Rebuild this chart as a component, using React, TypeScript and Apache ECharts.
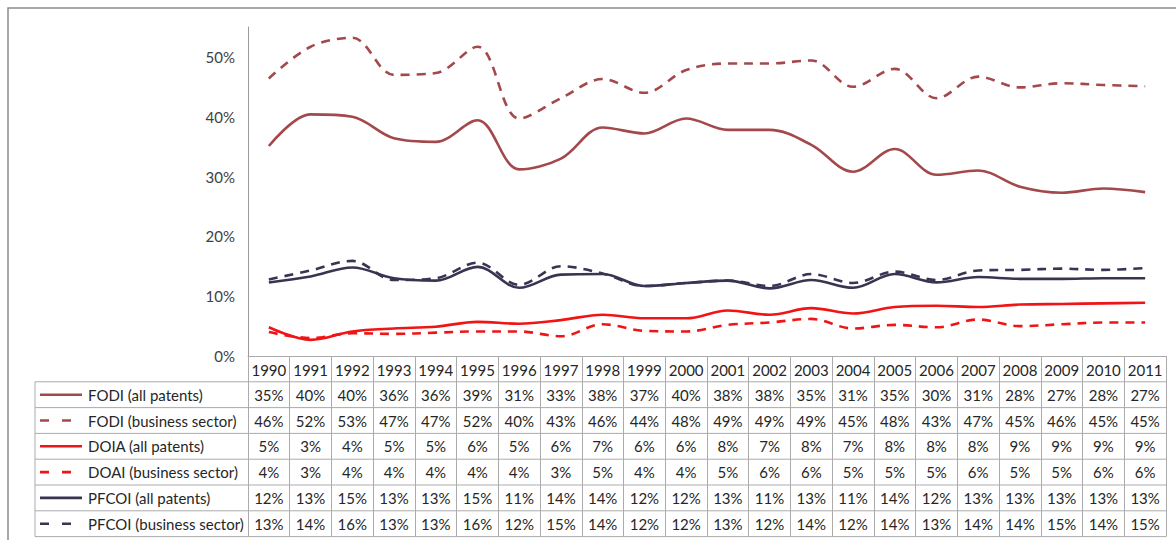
import React, { useEffect, useRef } from "react";
import * as echarts from "echarts";

const years = ["1990","1991","1992","1993","1994","1995","1996","1997","1998","1999","2000","2001","2002","2003","2004","2005","2006","2007","2008","2009","2010","2011"];
const fodiAll = [0.351,0.404,0.400,0.364,0.358,0.394,0.312,0.330,0.382,0.372,0.397,0.378,0.378,0.353,0.308,0.346,0.303,0.310,0.283,0.273,0.280,0.274];
const fodiBus = [0.464,0.517,0.532,0.470,0.473,0.517,0.397,0.431,0.463,0.440,0.478,0.489,0.489,0.494,0.450,0.480,0.431,0.467,0.449,0.456,0.453,0.451];
const doiaAll = [0.048,0.027,0.041,0.046,0.049,0.057,0.054,0.060,0.069,0.063,0.063,0.076,0.069,0.080,0.071,0.082,0.084,0.082,0.086,0.087,0.088,0.089];
const doaiBus = [0.040,0.030,0.038,0.037,0.039,0.041,0.041,0.033,0.053,0.042,0.041,0.052,0.056,0.062,0.046,0.052,0.048,0.061,0.050,0.053,0.056,0.056];
const pfcoiAll = [0.123,0.133,0.148,0.130,0.126,0.149,0.114,0.136,0.137,0.117,0.122,0.126,0.113,0.127,0.114,0.137,0.123,0.132,0.129,0.129,0.130,0.130];
const pfcoiBus = [0.128,0.143,0.159,0.127,0.130,0.156,0.119,0.150,0.138,0.117,0.122,0.126,0.117,0.137,0.122,0.141,0.127,0.143,0.144,0.146,0.144,0.147];

const seriesDefs = [
  { name: "FODI (all patents)", data: fodiAll, color: "#A3484B", dashed: false },
  { name: "FODI (business sector)", data: fodiBus, color: "#A3484B", dashed: true },
  { name: "DOIA (all patents)", data: doiaAll, color: "#F01414", dashed: false },
  { name: "DOAI (business sector)", data: doaiBus, color: "#F01414", dashed: true },
  { name: "PFCOI (all patents)", data: pfcoiAll, color: "#3A3452", dashed: false },
  { name: "PFCOI (business sector)", data: pfcoiBus, color: "#3A3452", dashed: true },
];

const FONT = "Lato, 'Open Sans', sans-serif";
const FS = 15;
const GRID_LEFT = 248;
const GRID_RIGHT = 10;
const GRID_TOP = 27;
const AXIS_Y = 356;
const ROW_H = 25.8;
const TABLE_LEFT = 35;
const GRID_COLOR = "#ABABAB";

export default function App() {
  const ref = useRef<HTMLDivElement>(null);
  useEffect(() => {
    if (!ref.current) return;
    const chart = echarts.init(ref.current, null, { renderer: "svg" });
    const W = 1176;
    const H = 540;
    chart.setOption({
      animation: false,
      backgroundColor: "#ffffff",
      grid: { left: GRID_LEFT, right: GRID_RIGHT, top: GRID_TOP, bottom: H - AXIS_Y },
      xAxis: {
        type: "category",
        data: years,
        boundaryGap: true,
        axisLine: { show: true, lineStyle: { color: GRID_COLOR, width: 1 } },
        axisTick: { show: true, length: ROW_H * 7, lineStyle: { color: GRID_COLOR, width: 1 } },
        axisLabel: { color: "#262626", fontFamily: FONT, fontSize: FS, margin: 6, interval: 0 },
        splitLine: { show: false },
      },
      yAxis: {
        type: "value",
        min: 0,
        max: 0.55,
        interval: 0.1,
        axisLine: { show: true, lineStyle: { color: "#9A9A9A", width: 1 } },
        axisTick: { show: false },
        splitLine: { show: false },
        axisLabel: {
          color: "#404040",
          fontFamily: FONT,
          fontSize: FS,
          margin: 13,
          showMaxLabel: false,
          formatter: (v: number) => Math.round(v * 100) + "%",
        },
      },
      series: seriesDefs.map((s) => ({
        name: s.name,
        type: "line",
        data: s.data,
        smooth: 0.35,
        symbol: "none",
        lineStyle: { color: s.color, width: 2.6, type: s.dashed ? [9, 7] : "solid" },
        itemStyle: { color: s.color },
        z: s.dashed ? 3 : 2,
      })),
    });

    const xs = years.map((_, i) => chart.convertToPixel({ xAxisIndex: 0 }, i) as number);
    const colW = xs.length > 1 ? xs[1] - xs[0] : 40;
    const tableRight = xs[xs.length - 1] + colW / 2;
    const graphics: any[] = [];
    graphics.push({
      type: "rect",
      shape: { x: 8, y: 8, width: W + 20, height: H + 20 },
      style: { fill: "none", stroke: "#8C8C8C", lineWidth: 1.5 },
      silent: true,
    });
    for (let k = 1; k <= 7; k++) {
      const y = AXIS_Y + k * ROW_H;
      graphics.push({
        type: "line",
        shape: { x1: TABLE_LEFT, y1: y, x2: tableRight, y2: y },
        style: { stroke: GRID_COLOR, lineWidth: 1 },
        silent: true,
      });
    }
    graphics.push({
      type: "line",
      shape: { x1: TABLE_LEFT, y1: AXIS_Y + ROW_H, x2: TABLE_LEFT, y2: AXIS_Y + 7 * ROW_H },
      style: { stroke: GRID_COLOR, lineWidth: 1 },
      silent: true,
    });
    seriesDefs.forEach((s, r) => {
      const cy = AXIS_Y + (r + 1.5) * ROW_H;
      graphics.push({
        type: "line",
        shape: { x1: 40, y1: cy, x2: s.dashed ? 72 : 82, y2: cy },
        style: { stroke: s.color, lineWidth: 2.6, lineDash: s.dashed ? [9, 13] : null },
        silent: true,
      });
      graphics.push({
        type: "text",
        x: 88,
        y: cy,
        style: { text: s.name, fill: "#262626", font: `${FS}px ${FONT}`, align: "left", verticalAlign: "middle" },
        silent: true,
      });
      s.data.forEach((v, i) => {
        graphics.push({
          type: "text",
          x: xs[i],
          y: cy,
          style: {
            text: Math.round(v * 100) + "%",
            fill: "#262626",
            font: `${FS}px ${FONT}`,
            align: "center",
            verticalAlign: "middle",
          },
          silent: true,
        });
      });
    });
    chart.setOption({ graphic: graphics });
    return () => chart.dispose();
  }, []);
  return (
    <div
      ref={ref}
      style={{ position: "absolute", left: 0, top: 0, width: 1176, height: 540, background: "#fff" }}
    />
  );
}
